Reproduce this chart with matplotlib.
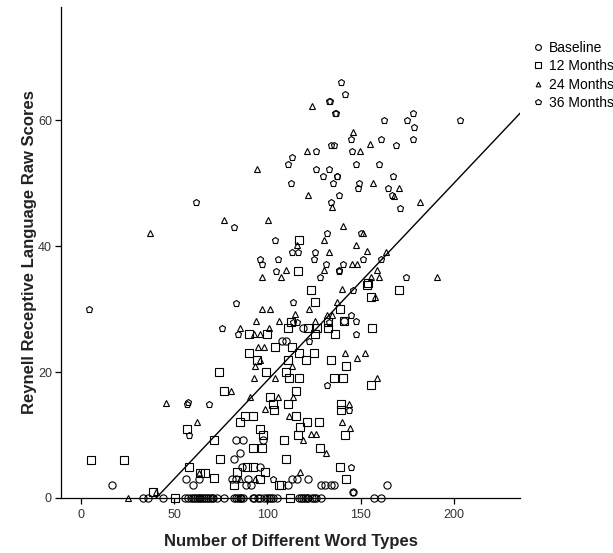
import numpy as np
import matplotlib
matplotlib.use('Agg')
import matplotlib.pyplot as plt

plt.rcParams['font.family'] = ['Liberation Sans', 'DejaVu Sans']

# Baseline (circles): x = word types, y = Reynell score
base_x = [33, 36, 44, 56, 57.5, 59, 60, 61, 62, 63, 64, 65, 66, 67, 68, 69, 70, 71, 73, 76.5,
          82, 83, 84, 85, 86, 87, 92, 93, 95, 96, 98, 100, 101, 102, 103, 105,
          117, 118, 119, 120, 121, 122, 124, 125, 126, 128.5, 157, 161,
          16.5, 56.3, 60.2, 63.1, 81, 83.3, 89.6, 113.3, 115.6, 121.7, 88.7, 90.9, 110.9,
          128.5, 130.6, 133.9, 135.6, 146, 164.3, 86.4, 95.9, 81.9, 85.5, 83.3, 86.9, 97.7,
          108, 110.2, 119.2, 141]
base_y = [0] * 48 + \
         [2, 3, 2, 3, 3, 3, 3, 3, 3, 3, 2.1, 2.1, 2.1,
          2.1, 2.1, 2.1, 2.1, 1, 2, 5, 5, 6.2, 7.1, 9.2, 9.2, 9.2,
          25, 25, 27, 28.1]

# 12 months (squares)
m12_x = [50.5, 112, 5.2, 23.1, 38.3, 56.6, 58.1, 63.6, 66.5, 71.5, 96.2, 81.9, 106, 107.5,
         83.7, 98.9, 89.1, 92.3, 74.7, 110.2, 71.1, 108.8, 92.3, 97.1, 128, 96.2, 97.7, 117.2,
         116.5, 85.1, 121.3, 127.6, 87.8, 92.3, 115.4, 103.4, 103, 110.9, 101.2, 115.4, 76.5,
         111.5, 116.8, 74.2, 99.3, 109.7, 94.4, 110.9, 120.4, 90, 117, 124.9, 103.8, 113.3,
         90, 99.5, 125.4, 136, 110.9, 122, 126.7, 132.6, 112.4, 132.6, 125.3, 123.1, 153.6,
         170.6, 153.9, 155.7, 116.3, 117, 138.9, 141, 156.3, 141.9, 134, 135.7, 140.7, 155.7,
         139.2, 139.2, 141.4, 138.9, 141.9]
m12_y = [0, 0, 6.1, 6.1, 1, 11, 5, 4, 4, 3.1, 3, 2.1, 2.1, 2.1,
         4.1, 4.1, 5, 5, 6.2, 6.2, 9.2, 9.2, 8, 8, 8, 11, 10, 11.3,
         10, 12.1, 12.1, 12.1, 13, 13, 13, 14, 15, 15, 16, 17, 17,
         19.1, 19.1, 20, 20, 20, 22, 22, 22, 23, 23, 23, 24, 24,
         26, 26, 26, 26, 27, 27, 27, 27, 28, 28, 31.1, 33, 33.8,
         33.1, 34.1, 32, 36, 41, 30, 28.1, 27, 21, 22, 19.1, 19.1, 18,
         15, 14, 10, 5, 3]

# 24 months (triangles)
m24_x = [25, 40.3, 36.7, 45.3, 62.2, 96.8, 101.2, 114.7, 122.2, 132, 94.1, 106.3, 125.4,
         85.5, 100.7, 93, 96, 94.8, 98, 96, 93.5, 113.3, 92.6, 103.8, 80.5, 90.5, 105.7,
         113.8, 98.5, 111.5, 123.1, 126.3, 119, 131.6, 117.2, 85.3, 93.5, 140.2, 137.5,
         134.8, 157.5, 141.4, 147.8, 152.3, 159, 143.7, 140.2, 144.1, 123.7, 121.3, 94.5,
         121.7, 134.4, 76.5, 100.4, 130.3, 116, 133, 130.3, 109.7, 96.8, 107, 145.9, 154.8,
         149.5, 156.8, 170.6, 168, 181.9, 140.5, 151, 147.3, 153.2, 145.2, 147.8, 163.4,
         158.6, 155.7, 159.9, 190.9, 63]
m24_y = [0, 1, 42.1, 15.1, 12.1, 30.1, 30.1, 29.2, 30.1, 29, 28.1, 28.1, 28.1,
         27, 27, 26, 26, 24, 24, 22, 21, 21, 19.1, 19.1, 17, 16.1, 16,
         16, 14.1, 13, 10.1, 10.1, 9.2, 7.1, 4.1, 3, 3, 33.2, 31.1,
         29, 32, 23.1, 22.2, 23.1, 19.1, 15, 12.1, 11.1, 62.2, 55.2, 52.2,
         48.2, 46.2, 44.1, 44.1, 41, 40.2, 39.1, 36.2, 36.2, 35.1, 35.1, 58.2, 56.2,
         55.1, 50.1, 49.2, 48, 47.1, 43.2, 42.1, 40.2, 39.2, 37.1, 37.1, 39.1,
         36.2, 35.1, 35.1, 35.1, 4]

# 36 months (pentagons)
m36_x = [4.3, 61.8, 56.8, 57.2, 68.5, 58.1, 103, 131.7, 143.7, 145, 145.9, 145.9, 145,
         133, 147.3, 147.3, 83.3, 113.8, 113.8, 116, 75.6, 84.2, 122.2, 139.4, 141.6, 133,
         133.5, 136.2, 136.6, 133.9, 135.6, 125.8, 113.3, 110.9, 125.8, 133, 129.9, 137.4,
         135.1, 112.4, 138.4, 133.9, 81.9, 131.7, 104.3, 113.3, 116.3, 125.4, 124.9, 96.2,
         97.3, 105.7, 131.2, 104.8, 128, 138.4, 178.3, 175.1, 178.7, 162.5, 203.4, 145,
         161.1, 178.3, 168.8, 145.5, 147.3, 159.8, 167.6, 137.5, 149.1, 148.6, 164.7, 167,
         171.1, 150, 151.3, 140.5, 138.4, 160.8, 174.2]
m36_y = [30, 47, 15, 15.2, 15, 10, 3, 18, 14, 5, 1, 33.1, 29,
         28, 28.1, 26, 31, 31.1, 28, 28, 27, 26, 25, 66.1, 64.1, 63,
         63, 61.1, 61.1, 56, 56, 55.2, 54.1, 53.1, 52.2, 52.2, 51.1, 51.1,
         50, 50, 48.1, 47, 43.1, 42.1, 41, 39.1, 39.1, 39.1, 38, 38,
         37.1, 38, 37.1, 36, 35.1, 36.2, 61.1, 60.1, 59, 60.1, 60.1, 57.1,
         57.1, 57.1, 56, 55.1, 53.1, 53.1, 51.1, 51.1, 50.1, 49.2, 49.2, 48.1,
         46.1, 42.1, 38, 37.1, 36.1, 38, 35.1]

groups = ['Baseline', '12 Months', '24 Months', '36 Months']
markers = ['o', 's', '^', 'p']
msizes = [5.2, 5.2, 4.2, 4.8]

# fit line (score = slope * words + intercept)
fit_slope = 0.313
fit_intercept = -12.6

fig = plt.figure(figsize=(6.13, 5.53), dpi=100)
ax = fig.add_axes([61 / 613, 55 / 553, 459 / 613, 491 / 553])

all_x = [base_x, m12_x, m24_x, m36_x]
all_y = [base_y, m12_y, m24_y, m36_y]
for xs, ys, mk, ms, lab in zip(all_x, all_y, markers, msizes, groups):
    ax.plot(xs, ys, linestyle='none', marker=mk, markersize=ms, markerfacecolor='none',
            markeredgecolor='black', markeredgewidth=0.8, label=lab, clip_on=False)

xx = np.array([-15, 240])
ax.plot(xx, fit_slope * xx + fit_intercept, color='black', linewidth=1.0)

ax.set_xlim(-10.8, 235.5)
ax.set_ylim(0, 78)
ax.set_xticks([0, 50, 100, 150, 200])
ax.set_yticks([0, 20, 40, 60])
ax.spines['top'].set_visible(False)
ax.spines['right'].set_visible(False)
ax.spines['left'].set_linewidth(0.9)
ax.spines['bottom'].set_linewidth(0.9)
ax.tick_params(direction='out', length=4.5, width=0.9, labelsize=9, labelcolor='#333333')
ax.tick_params(axis='y', pad=2)

ax.set_xlabel('Number of Different Word Types', fontsize=12, fontweight='bold',
              color='#222222', labelpad=9)
ax.set_ylabel('Reynell Receptive Language Raw Scores', fontsize=12, fontweight='bold',
              color='#222222', labelpad=1)

fig.legend(loc='upper left', bbox_to_anchor=(524 / 613, 1 - 35 / 553), frameon=False,
           fontsize=10, handletextpad=0.2, labelspacing=0.33, markerscale=0.8,
           handlelength=1.2, borderaxespad=0)

fig.savefig('out.png', dpi=100)
